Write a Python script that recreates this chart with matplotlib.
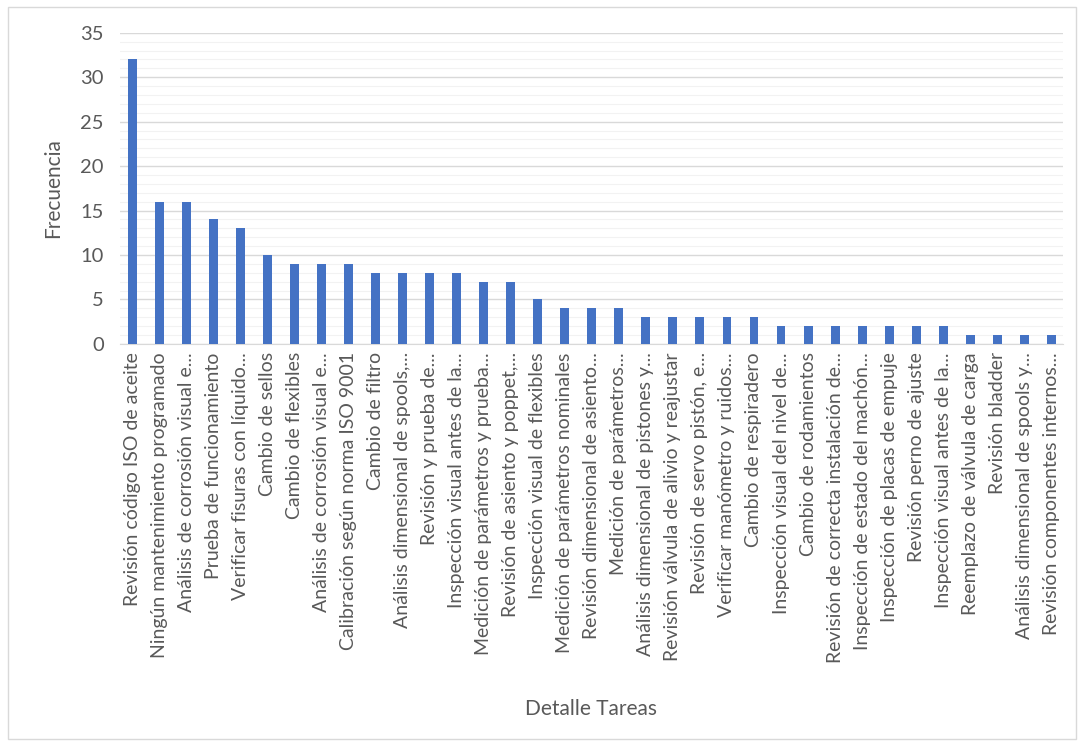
import matplotlib.pyplot as plt
from matplotlib.patches import Rectangle

tareas = [
    'Revisión código ISO de aceite',
    'Ningún mantenimiento programado',
    'Análisis de corrosión visual e...',
    'Prueba de funcionamiento',
    'Verificar fisuras con líquido...',
    'Cambio de sellos',
    'Cambio de flexibles',
    'Análisis de corrosión visual e...',
    'Calibración según norma ISO 9001',
    'Cambio de filtro',
    'Análisis dimensional de spools,...',
    'Revisión y prueba de...',
    'Inspección visual antes de la...',
    'Medición de parámetros y prueba...',
    'Revisión de asiento y poppet,...',
    'Inspección visual de flexibles',
    'Medición de parámetros nominales',
    'Revisión dimensional de asiento...',
    'Medición de parámetros...',
    'Análisis dimensional de pistones y...',
    'Revisión válvula de alivio y reajustar',
    'Revisión de servo pistón, e...',
    'Verificar manómetro y ruidos...',
    'Cambio de respiradero',
    'Inspección visual del nivel de...',
    'Cambio de rodamientos',
    'Revisión de correcta instalación de...',
    'Inspección de estado del machón...',
    'Inspección de placas de empuje',
    'Revisión perno de ajuste',
    'Inspección visual antes de la...',
    'Reemplazo de válvula de carga',
    'Revisión bladder',
    'Análisis dimensional de spools y...',
    'Revisión componentes internos...',
]
frecuencia = [32, 16, 16, 14, 13, 10, 9, 9, 9, 8, 8, 8, 8, 7, 7, 5, 4, 4, 4,
              3, 3, 3, 3, 3, 2, 2, 2, 2, 2, 2, 2, 1, 1, 1, 1]

plt.rcParams['font.family'] = ['Lato', 'DejaVu Sans']
gris = '#595959'

fig = plt.figure(figsize=(10.84, 7.46), dpi=100)
fig.patches.append(Rectangle((0.007, 0.01), 0.986, 0.98, transform=fig.transFigure,
                             fill=False, edgecolor='#D9D9D9', lw=1))
ax = fig.add_axes([0.111, 0.539, 0.870, 0.417])

x = range(len(tareas))
ax.bar(x, frecuencia, width=0.33, color='#4472C4', zorder=3)

ax.set_ylim(0, 35)
ax.set_xlim(-0.45, len(tareas) - 0.55)
ax.set_yticks(range(0, 36, 5))
ax.set_yticks(range(0, 36, 1), minor=True)
ax.grid(axis='y', which='major', color='#D9D9D9', lw=1, zorder=0)
ax.grid(axis='y', which='minor', color='#F2F2F2', lw=0.8, zorder=0)
ax.tick_params(axis='y', which='both', length=0, labelsize=14.5, labelcolor=gris, pad=12)
ax.tick_params(axis='x', length=0, labelsize=14, labelcolor=gris, pad=6)
ax.set_xticks(list(x))
ax.set_xticklabels(tareas, rotation=90)

for s in ['top', 'right', 'left']:
    ax.spines[s].set_visible(False)
ax.spines['bottom'].set_color('#D9D9D9')

ax.set_ylabel('Frecuencia', fontsize=15, color=gris, labelpad=12)
fig.text(0.545, 0.042, 'Detalle Tareas', fontsize=15, color=gris, ha='center')

fig.savefig('out.png', dpi=100)
